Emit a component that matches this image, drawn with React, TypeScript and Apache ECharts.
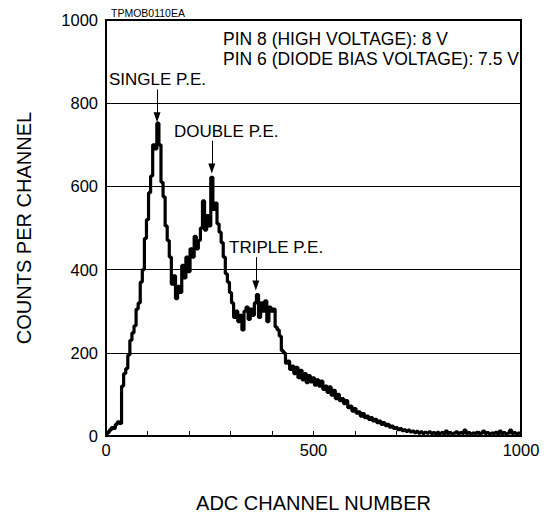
import React, { useEffect, useRef } from "react";
import * as echarts from "echarts";

const CHANNEL_STEP = 5;
const counts = [
  0, 8, 14, 20, 18, 28, 34, 30, 120, 150,
  162, 195, 230, 248, 265, 305, 320, 370, 400, 475,
  520, 585, 625, 700, 690, 752, 700, 610, 575, 505,
  470, 430, 365, 385, 330, 360, 345, 410, 380, 430,
  395, 450, 430, 480, 450, 470, 500, 565, 495, 530,
  505, 622, 545, 560, 510, 490, 465, 430, 390, 370,
  345, 320, 285, 300, 275, 290, 255, 300, 310, 280,
  305, 290, 320, 340, 285, 320, 300, 325, 275, 310,
  300, 305, 262, 255, 240, 205, 200, 175, 180, 160,
  168, 150, 165, 140, 158, 135, 150, 128, 145, 130,
  140, 122, 135, 120, 132, 112, 120, 105, 118, 98,
  110, 90, 100, 85, 90, 78, 85, 68, 72, 60,
  66, 55, 58, 48, 54, 44, 48, 40, 44, 36,
  40, 32, 36, 28, 32, 25, 28, 21, 24, 18,
  20, 15, 18, 13, 15, 11, 14, 10, 12, 8,
  11, 7, 10, 6, 9, 7, 10, 6, 8, 5,
  9, 6, 8, 5, 12, 6, 8, 5, 7, 10,
  5, 8, 6, 14, 6, 8, 5, 7, 6, 9,
  5, 7, 12, 6, 8, 5, 7, 6, 9, 5,
  12, 6, 8, 5, 7, 14, 6, 8, 5, 7,
  6,
];

const xTicks = [0, 500, 1000];
const yTicks = [0, 200, 400, 600, 800, 1000];

// peak annotations: label, channel, arrow top value, arrow tip value
const peakLabels = ["SINGLE P.E.", "DOUBLE P.E.", "TRIPLE P.E."];
const peakChannels = [123, 255, 361];
const arrowTops = [833, 710, 430];
const arrowTips = [766, 643, 362];

const notes = ["PIN 8 (HIGH VOLTAGE): 8 V", "PIN 6 (DIODE BIAS VOLTAGE): 7.5 V"];
const figureId = "TPMOB0110EA";

const FONT = "'Liberation Sans', Arial, Helvetica, sans-serif";

export default function App() {
  const ref = useRef<HTMLDivElement>(null);
  useEffect(() => {
    if (!ref.current) return;
    const chart = echarts.init(ref.current, undefined, { renderer: "svg" });
    const data = counts.map((c, i) => [i * CHANNEL_STEP, c]);
    const labelPos = [
      { x: 109, y: 79 },
      { x: 174, y: 131 },
      { x: 229, y: 247 },
    ];
    chart.setOption({
      animation: false,
      textStyle: { fontFamily: FONT },
      grid: {
        left: 106,
        right: 28,
        top: 20,
        bottom: 82,
        show: true,
        borderColor: "#000",
        borderWidth: 2,
        backgroundColor: "transparent",
      },
      xAxis: {
        type: "value",
        min: xTicks[0],
        max: xTicks[xTicks.length - 1],
        interval: 500,
        name: "ADC CHANNEL NUMBER",
        nameLocation: "middle",
        nameGap: 57,
        nameTextStyle: { fontSize: 20, color: "#000", fontFamily: FONT },
        axisLine: { show: true, lineStyle: { color: "#000", width: 2 } },
        axisTick: { show: true, inside: true, length: 5, lineStyle: { color: "#000" } },
        minorTick: { show: true, splitNumber: 5, length: 5, lineStyle: { color: "#000" } },
        splitLine: { show: false },
        axisLabel: {
          fontSize: 16.5,
          color: "#000",
          margin: 5,
          fontFamily: FONT,
          formatter: (v: number) => String(v),
        },
      },
      yAxis: {
        type: "value",
        min: yTicks[0],
        max: yTicks[yTicks.length - 1],
        interval: 200,
        name: "COUNTS PER CHANNEL",
        nameLocation: "middle",
        nameGap: 72,
        nameTextStyle: { fontSize: 20, color: "#000", fontFamily: FONT },
        axisLine: { show: true, lineStyle: { color: "#000", width: 2 } },
        axisTick: { show: false },
        splitLine: { show: true, lineStyle: { color: "#000", width: 1 } },
        axisLabel: {
          fontSize: 16.5,
          color: "#000",
          margin: 8,
          fontFamily: FONT,
          formatter: (v: number) => String(v),
        },
      },
      series: [
        {
          type: "line",
          data,
          step: "middle",
          showSymbol: false,
          lineStyle: { color: "#000", width: 3.2 },
          itemStyle: { color: "#000" },
          markLine: {
            silent: true,
            symbol: ["none", "triangle"],
            symbolSize: [7, 10],
            label: { show: false },
            lineStyle: { color: "#000", width: 1, type: "solid" },
            data: peakChannels.map((ch, i) => [
              { coord: [ch, arrowTops[i]] },
              { coord: [ch, arrowTips[i]] },
            ]),
          },
        },
      ],
      graphic: [
        {
          type: "text",
          x: 111,
          y: 7,
          style: { text: figureId, fontSize: 10.5, fill: "#000", fontFamily: FONT },
        },
        ...notes.map((t, i) => ({
          type: "text",
          x: 223,
          y: 39 + i * 20,
          style: { text: t, fontSize: 17.5, fill: "#000", fontFamily: FONT, verticalAlign: "middle" },
        })),
        ...peakLabels.map((t, i) => ({
          type: "text",
          x: labelPos[i].x,
          y: labelPos[i].y,
          style: { text: t, fontSize: 17, fill: "#000", fontFamily: FONT, verticalAlign: "middle" },
        })),
      ],
    });
    return () => chart.dispose();
  }, []);
  return <div ref={ref} style={{ width: 549, height: 518, position: "absolute", left: 0, top: 0 }} />;
}
